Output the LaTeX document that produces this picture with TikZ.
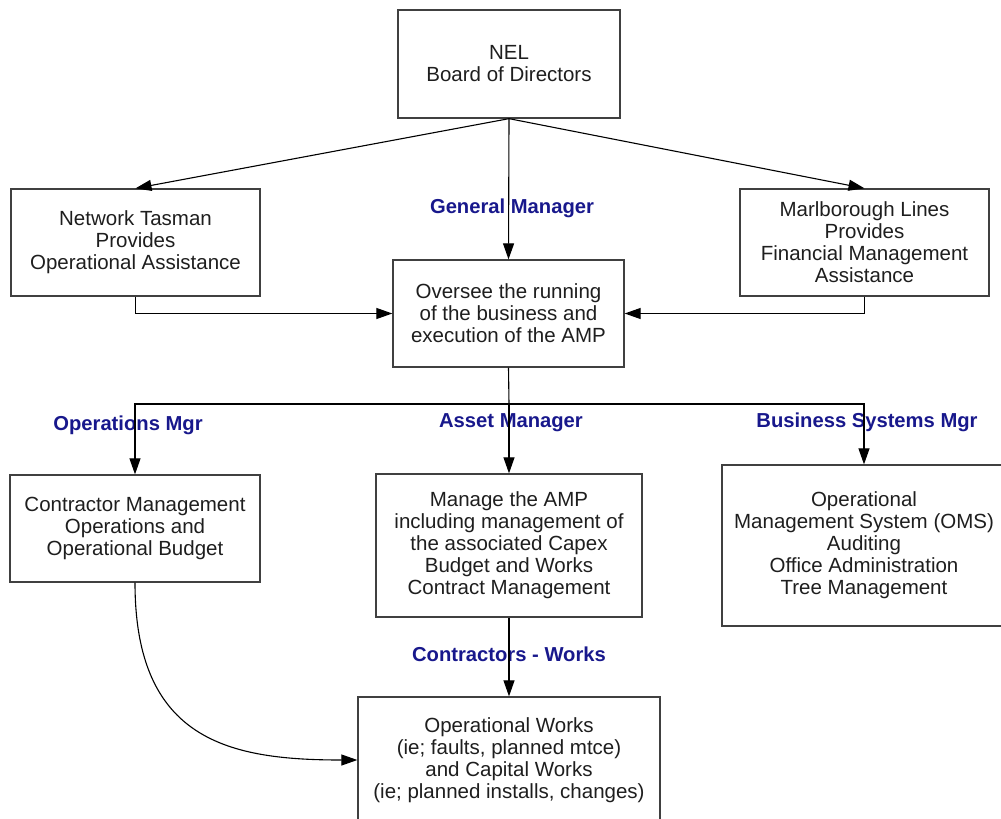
\documentclass[tikz,border=0pt]{standalone}
\usepackage{fontspec}
\setmainfont{Liberation Sans}
\usepackage{tikz}
\usetikzlibrary{arrows.meta,positioning,calc}
\definecolor{rolecol}{RGB}{24,24,140}
\definecolor{boxtext}{RGB}{30,30,30}

\begin{document}
\begin{tikzpicture}[
    x=1pt,y=-1pt,
    draw=black,
    line width=1.1pt,
    %
    box/.style={draw=black!75, rectangle, line width=1.3pt, align=center, text=boxtext,
                inner sep=0pt, font=\fontsize{20.5}{22}\selectfont},
    role/.style={text=rolecol, font=\fontsize{20.2}{22}\selectfont\bfseries, inner sep=0pt},
    %
    line/.style={draw, -{Triangle[length=16pt,width=11pt]}}
    ]
    \clip (0,0) rectangle (1001,819);

    \node[box, minimum width=222, minimum height=108] (nel)      at (509,64)     {NEL\\Board of Directors};
    \node[box, minimum width=249, minimum height=107] (tasman)   at (135.5,242.5) {Network Tasman\\Provides\\Operational Assistance};
    \node[box, minimum width=249, minimum height=107] (marl)     at (864.5,242.5) {Marlborough Lines\\Provides\\Financial Management\\Assistance};
    \node[box, minimum width=231, minimum height=107] (oversee)  at (508.5,313.5) {Oversee the running\\of the business  and\\execution of the AMP};
    \node[box, minimum width=250, minimum height=107] (contr)    at (135,528.5)  {Contractor Management\\Operations and\\Operational Budget};
    \node[box, minimum width=266, minimum height=143] (amp)      at (509,545.5)  {Manage the AMP\\including management of\\the associated Capex\\Budget and Works\\Contract Management};
    \node[box, minimum width=284, minimum height=161] (oms)      at (864,545.5)  {Operational\\Management System (OMS)\\Auditing\\Office Administration\\Tree Management};
    \node[box, minimum width=302, minimum height=126] (works)    at (509,760)    {Operational Works\\(ie; faults, planned mtce)\\and Capital Works\\(ie; planned installs, changes)};
    %
    \node[role] (gm)   at (512,208.5) {General Manager};
    \node[role] (opm)  at (128,425.5) {Operations Mgr};
    \node[role] (am)   at (511,422.5) {Asset Manager};
    \node[role] (bsm)  at (867,422.5) {Business Systems Mgr};
    \node[role] (cw)   at (509,654.5) {Contractors - Works};
    %
    \coordinate (bus) at (509,404);
    \draw[line] (nel.south) -- (tasman.north);
    \draw[line] (nel.south) -- (marl.north);
    \draw[line] (nel.south) -- (oversee.north);
    \draw[line] (tasman.south) |- (oversee.west);
    \draw[line] (marl.south) |- (oversee.east);
    \draw (oversee.south) -- (bus);
    \draw[line] (bus) -| (contr.north);
    \draw[line] (bus) -- (amp.north);
    \draw[line] (bus) -| (oms.north);
    \draw[line] (amp.south) -- (works.north);
    \draw[line] (contr.south) .. controls +(0,158) and +(-128,0) .. (works.west);
    %
\end{tikzpicture}
\end{document}
